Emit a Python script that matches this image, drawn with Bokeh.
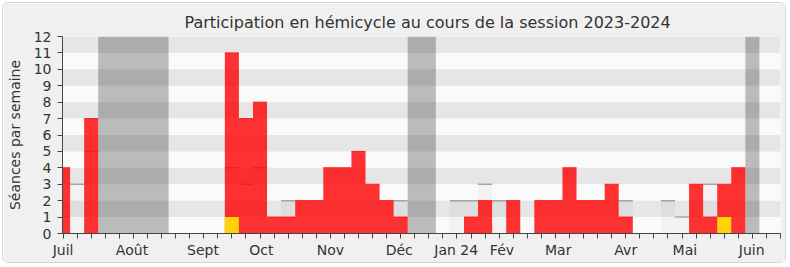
from bokeh.plotting import figure
from bokeh.models import Range1d, FixedTicker
from bokeh.embed import file_html
from bokeh.resources import INLINE

# ---- data (one entry per week, week 0 = first week of July 2023) ----
weeks = list(range(52))
presence = [4, 0, 7, 0, 0, 0, 0, 0, 0, 0, 0, 0, 11, 7, 8, 1, 1, 2, 2, 4, 4, 5, 3, 2, 1, 0,
            0, 0, 0, 1, 2, 0, 2, 0, 2, 2, 4, 2, 2, 3, 1, 0, 0, 0, 0, 3, 1, 3, 4, 0, 0, 0]
participation = [0] * 52
participation[12] = 1
participation[47] = 1
median = [0, 3, 5, 0, 0, 0, 0, 0, 0, 0, 0, 0, 4, 3, 4, 0, 2, 0, 0, 0, 0, 0, 0, 0, 2, 0,
          0, 0, 2, 2, 3, 2, 0, 0, 0, 0, 0, 0, 0, 0, 2, 0, 0, 2, 1, 0, 3, 0, 0, 0, 0, 0]
vacances = [3, 4, 5, 6, 7, 25, 26, 49]
month_labels = ["Juil", "Août", "Sept", "Oct", "Nov", "Déc", "Jan 24", "Fév", "Mar", "Avr", "Mai", "Juin"]
month_pos = [0, 4.9, 9.95, 14.1, 19, 23.9, 27.95, 31.2, 35.2, 40, 44.2, 48.95]
y_ticks = list(range(13))
YMAX = 12
FONT = "DejaVu Sans"


def step_runs(ws, vals):
    """Build one step-outline polygon per run of consecutive non-zero weeks."""
    xs_all, ys_all = [], []
    xs, ys = [], []
    prev = None
    for w, v in zip(ws, vals):
        if v > 0 and prev is not None and w == prev + 1:
            xs += [w - 0.5, w - 0.5, w + 0.5]
            ys += [ys[-1], v, v]
        elif v > 0:
            if xs:
                xs_all.append(xs + [xs[-1]]); ys_all.append(ys + [0])
            xs, ys = [w - 0.5, w - 0.5, w + 0.5], [0, v, v]
        else:
            continue
        prev = w
    if xs:
        xs_all.append(xs + [xs[-1]]); ys_all.append(ys + [0])
    return xs_all, ys_all


x0, x1 = -0.04, 51.0
p = figure(width=784, height=261, output_backend="svg", toolbar_location=None,
           x_range=Range1d(x0, x1), y_range=Range1d(0, YMAX),
           min_border_left=58, min_border_right=7, min_border_top=33, min_border_bottom=31,
           background_fill_color="#fafafa", border_fill_color="#f0f0f0",
           outline_line_color=None)
p.styles = {"border": "1px solid #d6d6d6", "border-radius": "6px", "margin": "2px"}

p.title.text = "Participation en hémicycle au cours de la session 2023-2024"
p.title.text_font = FONT
p.title.text_font_size = "16px"
p.title.text_font_style = "normal"
p.title.text_color = "#333333"
p.title.align = "left"
p.title.offset = 122

p.grid.visible = False

# vacation bands
vx, vy = step_runs(vacances, [YMAX] * len(vacances))
p.patches(vx, vy, fill_color="#bbbbbb", line_color=None)
# stripes
bands = [y + 0.5 for y in y_ticks[1:-1:2]]
p.hbar(y=bands, height=1, left=x0, right=x1, fill_color="#000000", fill_alpha=0.08, line_color=None)

# median bars
mw = [w for w, m in zip(weeks, median) if m > 0]
mv = [m for m in median if m > 0]
mx, my = step_runs(mw, mv)
p.patches(mx, my, fill_color="#000000", fill_alpha=0.03, line_color=None)
p.segment(x0=[w - 0.5 for w in mw], x1=[w + 0.5 for w in mw], y0=mv, y1=mv,
          line_color="#a4a4a4", line_width=1.5)

# presence
pw = [w for w, v in zip(weeks, presence) if v > 0]
pv = [v for v in presence if v > 0]
px, py = step_runs(pw, pv)
p.patches(px, py, fill_color="#ff0000", fill_alpha=0.8, line_color=None)
p.segment(x0=[w - 0.5 for w in pw], x1=[w + 0.5 for w in pw], y0=pv, y1=pv,
          line_color="#ff1a1a", line_width=1)

# participation
yw = [w for w, v in zip(weeks, participation) if v > 0]
yv = [v for v in participation if v > 0]
p.vbar(x=yw, top=yv, width=1, fill_color="#ffd20a", line_color=None)

# axes
xa = p.xaxis[0]
xa.ticker = FixedTicker(ticks=month_pos, minor_ticks=weeks)
xa.major_label_overrides = {pos: lab for pos, lab in zip(month_pos, month_labels)}
xa.major_tick_line_color = None
xa.minor_tick_in = 0
xa.minor_tick_out = 5
xa.minor_tick_line_color = "#444444"
xa.axis_line_color = "#444444"
xa.major_label_standoff = 2
xa.major_label_text_font = FONT
xa.major_label_text_font_size = "14px"
xa.major_label_text_color = "#333333"

ya = p.yaxis[0]
ya.ticker = FixedTicker(ticks=y_ticks)
ya.major_tick_in = 0
ya.major_tick_out = 5
ya.minor_tick_line_color = None
ya.major_tick_line_color = "#444444"
ya.axis_line_color = "#444444"
ya.major_label_standoff = 6
ya.major_label_text_font = FONT
ya.major_label_text_font_size = "14px"
ya.major_label_text_color = "#333333"
ya.axis_label = "Séances par semaine"
ya.axis_label_text_font = FONT
ya.axis_label_text_font_size = "14px"
ya.axis_label_text_font_style = "normal"
ya.axis_label_text_color = "#333333"
ya.axis_label_standoff = 8

open("out.html", "w").write(file_html(p, INLINE))
